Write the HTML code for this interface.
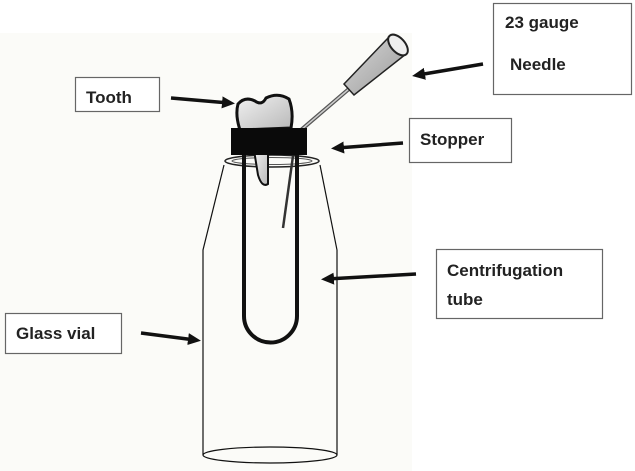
<!DOCTYPE html>
<html><head><style>
body{margin:0;background:#fff}
svg{display:block}
text{font-family:"Liberation Sans",sans-serif;font-weight:bold;font-size:17px;fill:#222}
</style></head><body>
<svg width="635" height="471" viewBox="0 0 635 471" xmlns="http://www.w3.org/2000/svg">
<defs>
<marker id="ah" markerWidth="14" markerHeight="14" refX="7" refY="7" orient="auto" markerUnits="userSpaceOnUse">
<path d="M0,1 L13,7 L0,13 z" fill="#111"/></marker>
<linearGradient id="hub" x1="0" y1="0" x2="1" y2="1"><stop offset="0" stop-color="#d8d8d8"/><stop offset="1" stop-color="#9a9a9a"/></linearGradient>
<linearGradient id="tg" x1="0" y1="0" x2="1" y2="1"><stop offset="0" stop-color="#f2f2f2"/><stop offset="1" stop-color="#b8b8b8"/></linearGradient>
</defs>
<rect x="0" y="33" width="412" height="438" fill="#fbfbf8"/>
<g fill="none" stroke="#111" stroke-width="1.2">
<path d="M224,165 L203,250 L203,455"/>
<path d="M320,165 L337,250 L337,455"/>
<ellipse cx="270" cy="455" rx="67" ry="8"/>
</g>
<ellipse cx="272" cy="161" rx="47" ry="6" fill="none" stroke="#222" stroke-width="1.5"/>
<ellipse cx="272" cy="161" rx="40" ry="3.5" fill="none" stroke="#555" stroke-width="1"/>
<path d="M244,150 L244,316 A26.5,26.5 0 0 0 297,316 L297,150" fill="none" stroke="#111" stroke-width="4"/>
<path d="M293,156 L283,228" stroke="#333" stroke-width="2.5" fill="none"/>
<path d="M254,150 L258,175 Q262,188 268,184 L268,150 z" fill="url(#tg)" stroke="#111" stroke-width="2"/>
<path d="M238,104 Q245,96 255,101 Q262,106 266,98 Q278,92 289,99 Q294,112 291,128 L240,130 Q235,115 238,104 z" fill="url(#tg)" stroke="#111" stroke-width="3"/>
<path d="M350,88 L301,130" stroke="#555" stroke-width="4"/>
<path d="M350,88 L301,130" stroke="#ccc" stroke-width="1.5"/>
<path d="M344,84 L390,36 L406,54 L354,95 z" fill="url(#hub)" stroke="#222" stroke-width="1.5"/>
<ellipse cx="398" cy="45" rx="7" ry="12.5" transform="rotate(-42 398 45)" fill="#eee" stroke="#222" stroke-width="2"/>
<rect x="231" y="128" width="76" height="27" fill="#0a0a0a"/>
<g stroke="#111" stroke-width="3.5" fill="none" marker-end="url(#ah)">
<line x1="171" y1="98" x2="229" y2="103"/>
<line x1="483" y1="64" x2="418" y2="75"/>
<line x1="403" y1="143" x2="337" y2="148"/>
<line x1="416" y1="274" x2="327" y2="279"/>
<line x1="141" y1="333" x2="195" y2="340"/>
</g>
<g fill="#fff" stroke="#666" stroke-width="1.2">
<rect x="493.5" y="3.5" width="138" height="91"/>
<rect x="75.5" y="77.5" width="84" height="34"/>
<rect x="409.5" y="118.5" width="102" height="44"/>
<rect x="436.5" y="249.5" width="166" height="69"/>
<rect x="5.5" y="313.5" width="116" height="40"/>
</g>
<text x="505" y="28">23 gauge</text>
<text x="510" y="70">Needle</text>
<text x="86" y="103">Tooth</text>
<text x="420" y="145">Stopper</text>
<text x="447" y="276">Centrifugation</text>
<text x="447" y="305">tube</text>
<text x="16" y="339">Glass vial</text>
</svg>
</body></html>
